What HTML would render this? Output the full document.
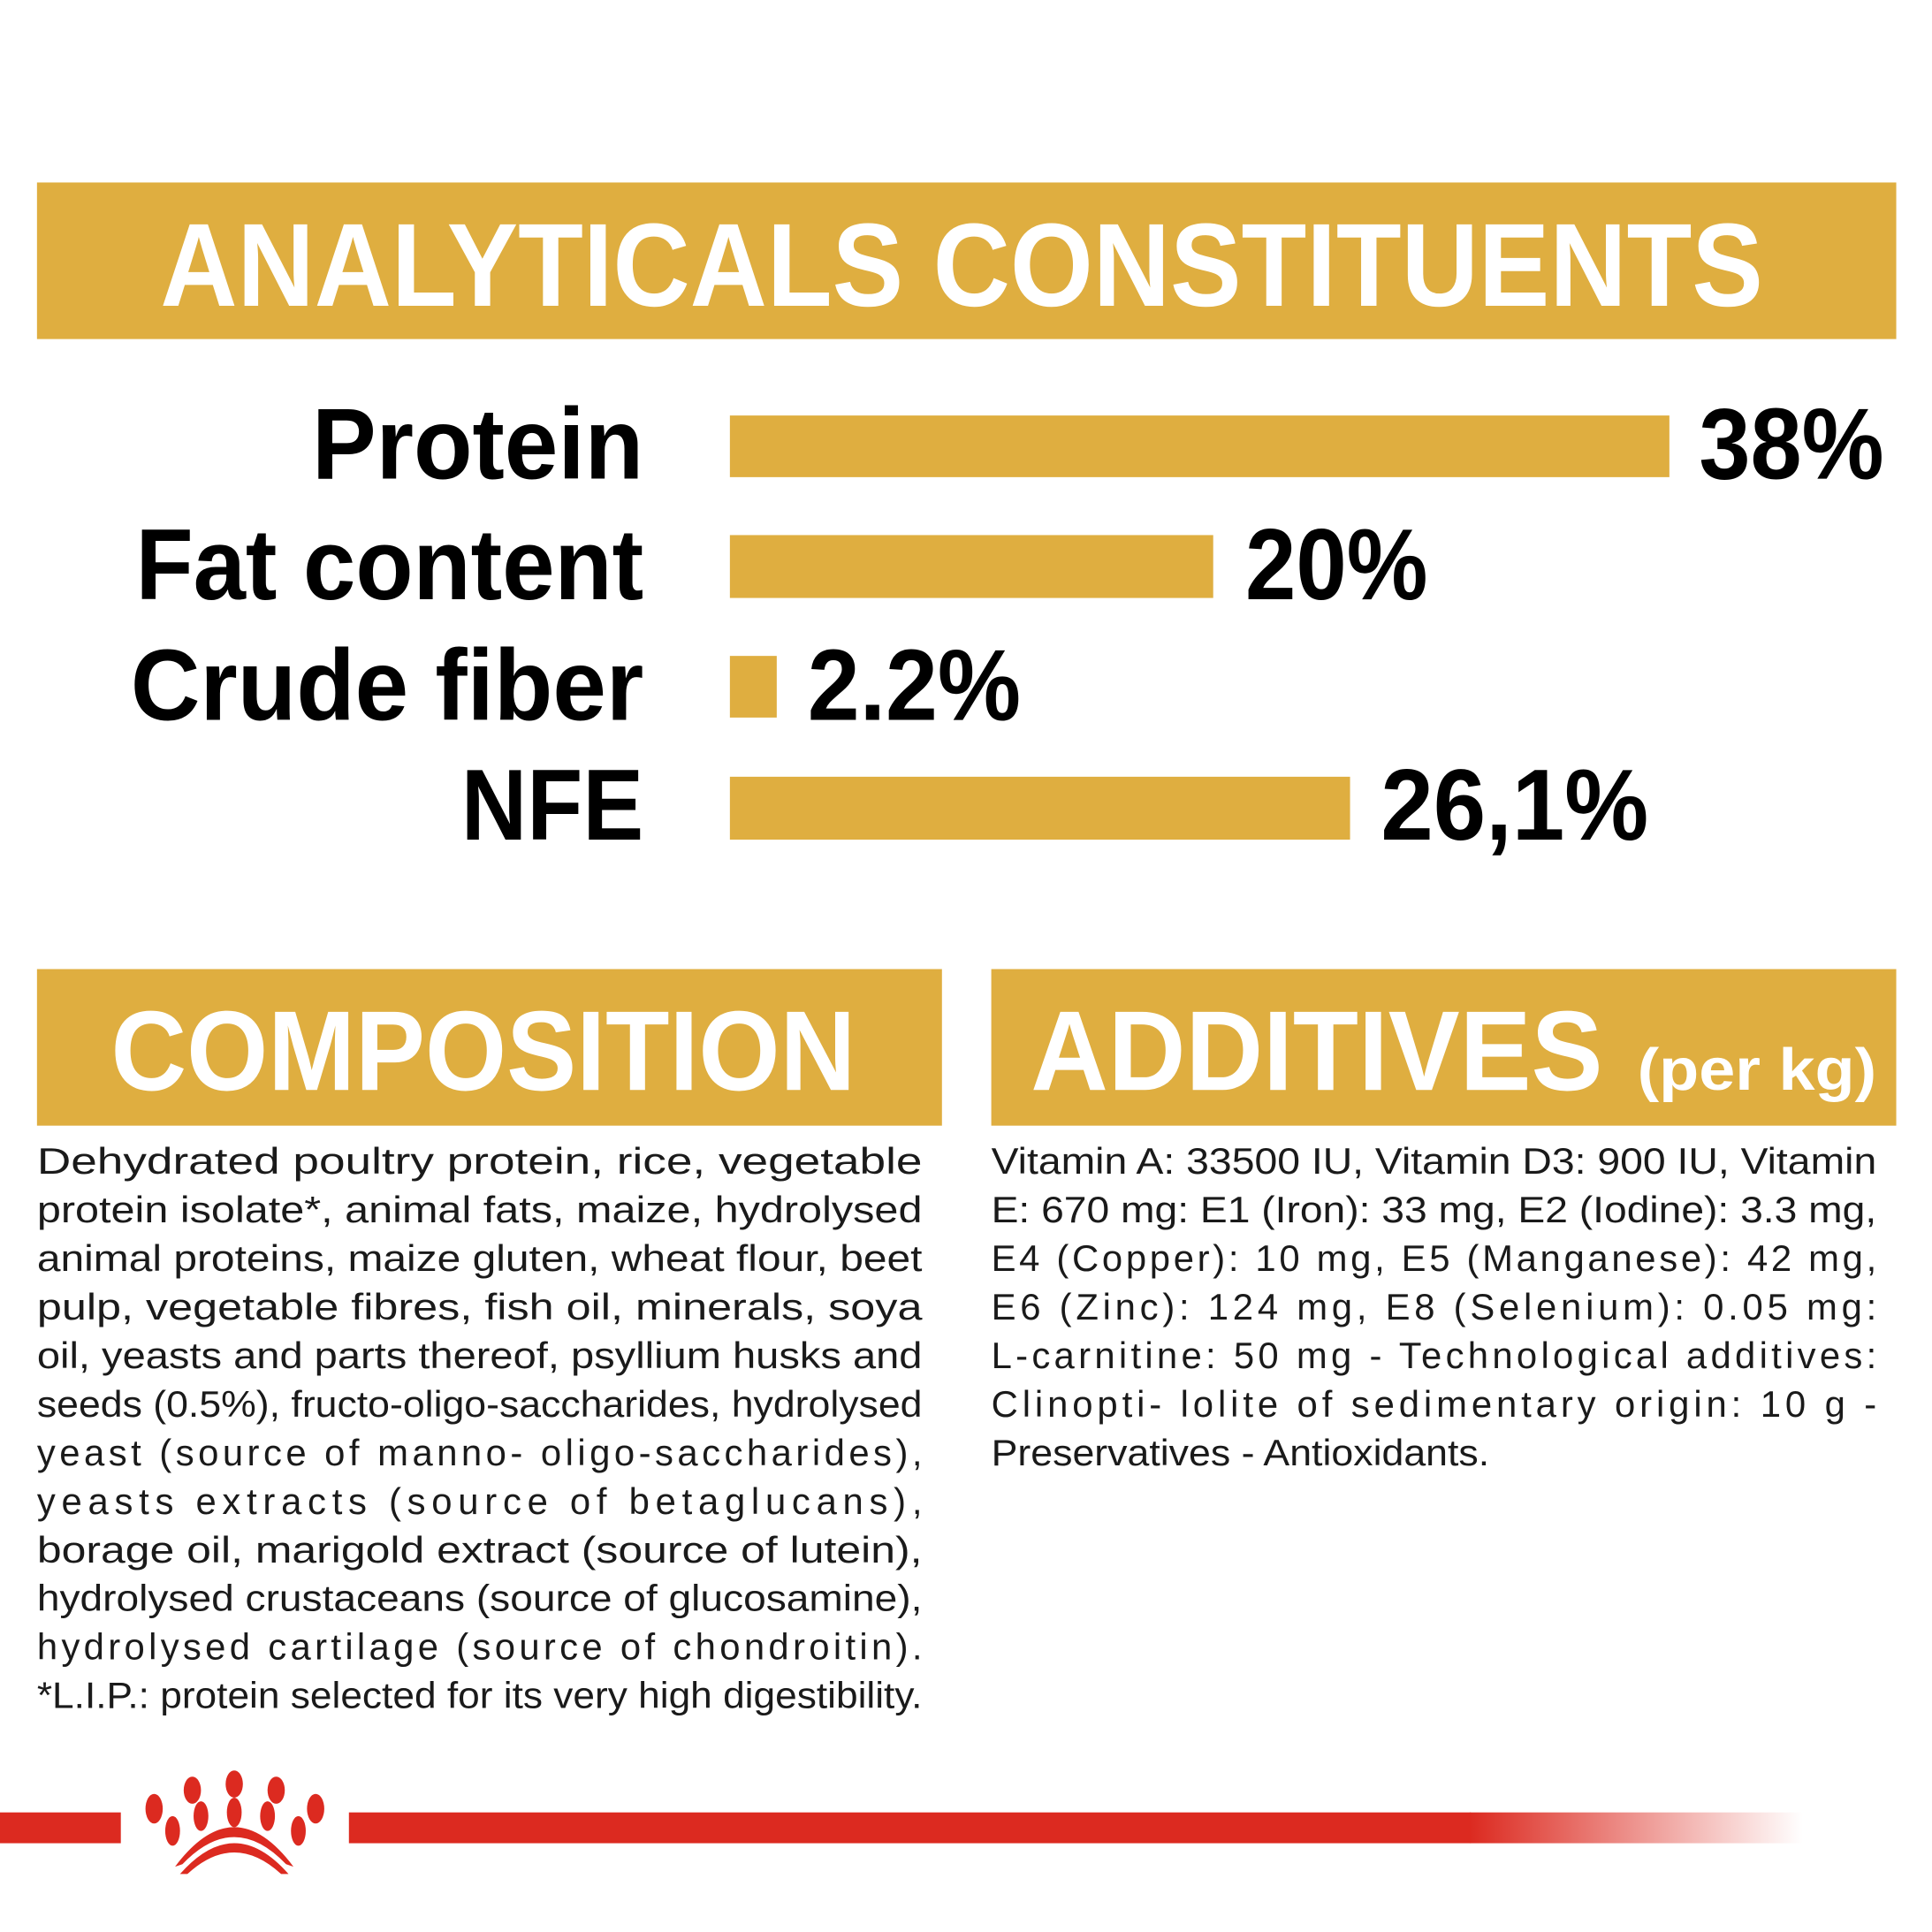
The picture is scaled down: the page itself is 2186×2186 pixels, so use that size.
<!DOCTYPE html>
<html><head><meta charset="utf-8"><style>
html,body{margin:0;padding:0;background:#fff}
svg{display:block}
</style></head><body>
<svg width="2186" height="2186" viewBox="0 0 1567 1567" xmlns="http://www.w3.org/2000/svg">
<defs>
<linearGradient id="fade" x1="0" x2="1" y1="0" y2="0">
<stop offset="0" stop-color="#dc2a20" stop-opacity="1"/>
<stop offset="1" stop-color="#dc2a20" stop-opacity="0"/>
</linearGradient>
</defs>
<rect width="1567" height="1567" fill="#fff"/>
<g font-family="Liberation Sans, sans-serif" font-weight="bold">
<rect x="30" y="148" width="1508" height="127" fill="#dfae40"/>
<text x="130" y="248" font-size="96" fill="#fff" textLength="1300" lengthAdjust="spacingAndGlyphs">ANALYTICALS CONSTITUENTS</text>

<g fill="#000" font-size="82">
<text x="253" y="388" textLength="269" lengthAdjust="spacingAndGlyphs">Protein</text>
<text x="110" y="486" textLength="412" lengthAdjust="spacingAndGlyphs">Fat content</text>
<text x="106" y="584" textLength="416" lengthAdjust="spacingAndGlyphs">Crude fiber</text>
<text x="374" y="681" textLength="148" lengthAdjust="spacingAndGlyphs">NFE</text>
<text x="1378" y="388" textLength="150" lengthAdjust="spacingAndGlyphs">38%</text>
<text x="1010" y="486" textLength="148" lengthAdjust="spacingAndGlyphs">20%</text>
<text x="655" y="584" textLength="173" lengthAdjust="spacingAndGlyphs">2.2%</text>
<text x="1120" y="681" textLength="217" lengthAdjust="spacingAndGlyphs">26,1%</text>
</g>
<g fill="#dfae40">
<rect x="592" y="337" width="762" height="50"/>
<rect x="592" y="434" width="392" height="51"/>
<rect x="592" y="532" width="38" height="50"/>
<rect x="592" y="630" width="503" height="51"/>
<rect x="30" y="786" width="734" height="127"/>
<rect x="804" y="786" width="734" height="127"/>
</g>
<text x="90" y="884" font-size="92" fill="#fff" textLength="604" lengthAdjust="spacingAndGlyphs">COMPOSITION</text>
<text x="836" y="884" font-size="92" fill="#fff" textLength="464" lengthAdjust="spacingAndGlyphs">ADDITIVES</text>
<text x="1328" y="884" font-size="48" fill="#fff" textLength="194" lengthAdjust="spacingAndGlyphs">(per kg)</text>
</g>

<g font-family="Liberation Sans, sans-serif" font-size="30" fill="#1a1a1a">
<text x="30" y="952" textLength="718" lengthAdjust="spacingAndGlyphs">Dehydrated poultry protein, rice, vegetable</text>
<text x="30" y="991.4" textLength="718" lengthAdjust="spacingAndGlyphs">protein isolate*, animal fats, maize, hydrolysed</text>
<text x="30" y="1030.8" textLength="718" lengthAdjust="spacingAndGlyphs">animal proteins, maize gluten, wheat flour, beet</text>
<text x="30" y="1070.2" textLength="718" lengthAdjust="spacingAndGlyphs">pulp, vegetable fibres, fish oil, minerals, soya</text>
<text x="30" y="1109.6" textLength="718" lengthAdjust="spacingAndGlyphs">oil, yeasts and parts thereof, psyllium husks and</text>
<text x="30" y="1149" textLength="718" lengthAdjust="spacingAndGlyphs">seeds (0.5%), fructo-oligo-saccharides, hydrolysed</text>
<text x="30" y="1188.4" textLength="718" lengthAdjust="spacing">yeast (source of manno- oligo-saccharides),</text>
<text x="30" y="1227.8" textLength="718" lengthAdjust="spacing">yeasts extracts (source of betaglucans),</text>
<text x="30" y="1267.2" textLength="718" lengthAdjust="spacingAndGlyphs">borage oil, marigold extract (source of lutein),</text>
<text x="30" y="1306.6" textLength="718" lengthAdjust="spacingAndGlyphs">hydrolysed crustaceans (source of glucosamine),</text>
<text x="30" y="1346" textLength="718" lengthAdjust="spacing">hydrolysed cartilage (source of chondroitin).</text>
<text x="30" y="1385.4" textLength="718" lengthAdjust="spacingAndGlyphs">*L.I.P.: protein selected for its very high digestibility.</text>

<text x="804" y="952" textLength="718" lengthAdjust="spacingAndGlyphs">Vitamin A: 33500 IU, Vitamin D3: 900 IU, Vitamin</text>
<text x="804" y="991.4" textLength="718" lengthAdjust="spacingAndGlyphs">E: 670 mg: E1 (Iron): 33 mg, E2 (Iodine): 3.3 mg,</text>
<text x="804" y="1030.8" textLength="718" lengthAdjust="spacing">E4 (Copper): 10 mg, E5 (Manganese): 42 mg,</text>
<text x="804" y="1070.2" textLength="718" lengthAdjust="spacing">E6 (Zinc): 124 mg, E8 (Selenium): 0.05 mg:</text>
<text x="804" y="1109.6" textLength="718" lengthAdjust="spacing">L-carnitine: 50 mg - Technological additives:</text>
<text x="804" y="1149" textLength="718" lengthAdjust="spacing">Clinopti- lolite of sedimentary origin: 10 g -</text>
<text x="804" y="1188.4" textLength="404" lengthAdjust="spacingAndGlyphs">Preservatives - Antioxidants.</text>
</g>

<rect x="0" y="1470" width="98" height="25" fill="#dc2a20"/>
<rect x="283" y="1470" width="910" height="25" fill="#dc2a20"/>
<rect x="1192" y="1470" width="270" height="25" fill="url(#fade)"/>
<g fill="#dc2a20">
<ellipse cx="190" cy="1447" rx="7" ry="11"/>
<ellipse cx="156" cy="1452" rx="7" ry="11"/>
<ellipse cx="224" cy="1452" rx="7" ry="11"/>
<ellipse cx="125" cy="1467" rx="7" ry="12"/>
<ellipse cx="256" cy="1467" rx="7" ry="12"/>
<ellipse cx="163" cy="1473" rx="6" ry="12"/>
<ellipse cx="190" cy="1470" rx="6" ry="12"/>
<ellipse cx="217" cy="1473" rx="6" ry="12"/>
<ellipse cx="140" cy="1485" rx="6" ry="12"/>
<ellipse cx="242" cy="1485" rx="6" ry="12"/>
<path d="M142 1514 Q190 1450 238 1514 L232 1512 Q190 1468 148 1512 Z"/>
<path d="M146 1520 Q190 1470 234 1520 L228 1520 Q190 1485 152 1520 Z"/>
</g>
</svg>
</body></html>
